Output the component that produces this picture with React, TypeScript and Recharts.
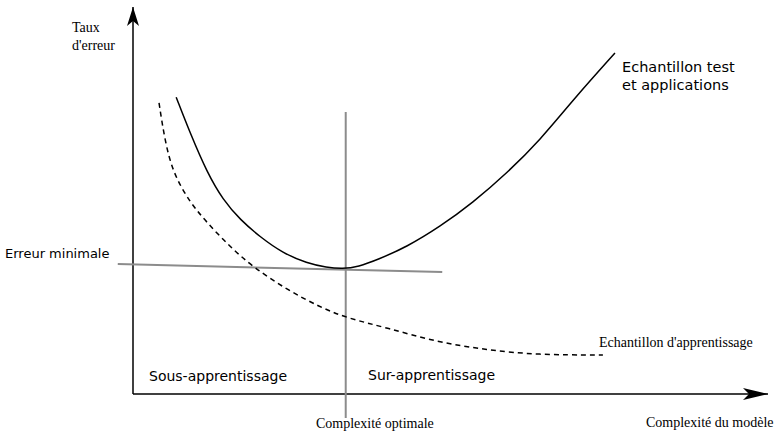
import {
  ComposedChart,
  Line,
  XAxis,
  YAxis,
  ReferenceLine,
  ReferenceDot,
} from "recharts";

// model complexity (0-100) vs error rate (0-100)
const testComplexity = [6.8, 9.0, 11.7, 14.2, 16.9, 20.0, 23.6, 27.4, 30.5, 33.0, 35.5, 38.5, 43.1, 48.3, 53.5, 58.9, 64.1, 69.3, 75.9];
const testError = [76.7, 67.4, 57.1, 50.1, 45.0, 40.6, 36.4, 33.8, 32.7, 32.3, 32.9, 34.7, 38.0, 43.2, 49.4, 57.1, 65.6, 76.0, 88.1];

const trainComplexity = [4.1, 5.0, 6.3, 9.0, 11.7, 15.3, 18.9, 24.3, 29.4, 33.7, 40.0, 47.9, 55.7, 63.6, 74.0];
const trainError = [75.2, 65.6, 57.1, 49.4, 44.2, 38.0, 32.8, 26.9, 22.5, 19.6, 17.1, 13.4, 11.4, 10.1, 10.1];

const optimalComplexity = 33.5;
const optimalSpan = [72.9, -6.2];
const minErrorLine = [
  { x: -2.4, y: 33.6 },
  { x: 48.7, y: 31.5 },
];

const testData = testComplexity.map((x, i) => ({ x, err: testError[i] }));
const trainData = trainComplexity.map((x, i) => ({ x, err: trainError[i] }));

const serif = '"Liberation Serif", "Times New Roman", serif';
const sans = '"DejaVu Sans", Verdana, sans-serif';

function ArrowRight(props: any) {
  const { cx, cy } = props;
  return (
    <path
      d={`M${cx},${cy} L${cx - 25},${cy - 6} L${cx - 19},${cy} L${cx - 25},${cy + 6} Z`}
      fill="#000"
    />
  );
}

function ArrowUp(props: any) {
  const { cx, cy } = props;
  return (
    <path
      d={`M${cx},${cy} L${cx - 6},${cy + 19} L${cx},${cy + 14} L${cx + 6},${cy + 19} Z`}
      fill="#000"
    />
  );
}

export default function App() {
  return (
    <div style={{ position: "absolute", left: 0, top: 0, width: 782, height: 431, background: "#fff" }}>
      <ComposedChart
        width={782}
        height={431}
        margin={{ top: 7, right: 14, bottom: 37, left: 133 }}
      >
        <XAxis type="number" dataKey="x" domain={[0, 100]} hide />
        <YAxis type="number" domain={[0, 100]} hide />
        {/* axes */}
        <ReferenceLine y={0} stroke="#000" strokeWidth={1.5} ifOverflow="visible" />
        <ReferenceLine x={0} stroke="#000" strokeWidth={1.5} ifOverflow="visible" />
        <ReferenceLine
          segment={minErrorLine}
          stroke="#8c8c8c"
          strokeWidth={2}
          ifOverflow="visible"
        />
        <ReferenceLine
          segment={[
            { x: optimalComplexity, y: optimalSpan[0] },
            { x: optimalComplexity, y: optimalSpan[1] },
          ]}
          stroke="#8c8c8c"
          strokeWidth={2}
          ifOverflow="visible"
        />
        <Line
          data={trainData}
          dataKey="err"
          type="basis"
          stroke="#000"
          strokeWidth={1.5}
          strokeDasharray="5 4"
          dot={false}
          isAnimationActive={false}
        />
        <Line
          data={testData}
          dataKey="err"
          type="basis"
          stroke="#000"
          strokeWidth={1.5}
          dot={false}
          isAnimationActive={false}
        />
        <ReferenceDot x={100} y={0} ifOverflow="visible" shape={ArrowRight} />
        <ReferenceDot x={0} y={100} ifOverflow="visible" shape={ArrowUp} />
      </ComposedChart>
      <svg
        width={782}
        height={431}
        style={{ position: "absolute", left: 0, top: 0, pointerEvents: "none" }}
      >
        <g fontFamily={serif} fontSize={14} fill="#000">
          <text x={72} y={32}>Taux</text>
          <text x={72} y={50}>d'erreur</text>
          <text x={599} y={347}>Echantillon d'apprentissage</text>
          <text x={316} y={428}>Complexité optimale</text>
          <text x={646} y={427}>Complexité du modèle</text>
        </g>
        <g fontFamily={sans} fill="#000">
          <text x={5} y={258} fontSize={13}>Erreur minimale</text>
          <text x={622} y={72} fontSize={14.5}>Echantillon test</text>
          <text x={622} y={90} fontSize={14.5}>et applications</text>
          <text x={149} y={381} fontSize={14}>Sous-apprentissage</text>
          <text x={368} y={380} fontSize={14}>Sur-apprentissage</text>
        </g>
      </svg>
    </div>
  );
}
